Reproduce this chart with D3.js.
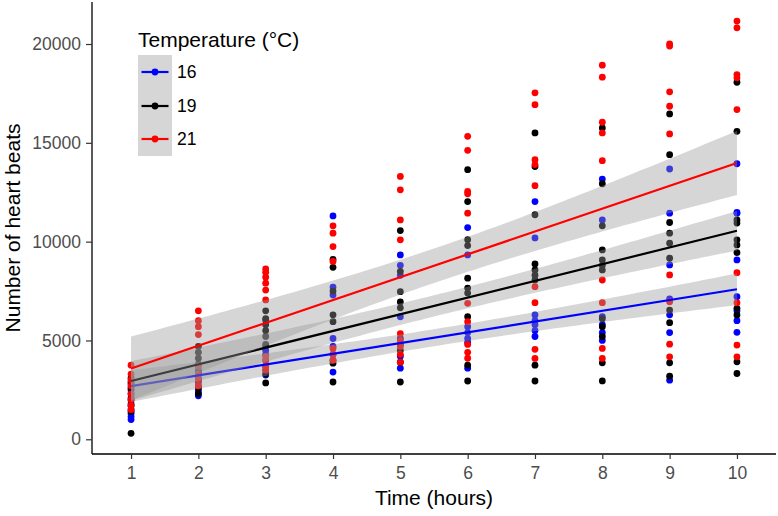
<!DOCTYPE html>
<html><head><meta charset="utf-8">
<script src="https://cdn.jsdelivr.net/npm/d3@7"></script>
<style>
html,body{margin:0;padding:0;background:#fff;}
svg{display:block;font-family:Arial,"Liberation Sans",sans-serif;}
</style></head>
<body>
<svg id="chart" width="778" height="516"></svg>
<script>
// ---- data ----
const hours = [1,2,3,4,5,6,7,8,9,10];
const temps = ["16","19","21"];
const colors = ["#0000FF","#000000","#FF0000"];
const xTicks = [1,2,3,4,5,6,7,8,9,10];
const yTicks = [0,5000,10000,15000,20000];

// heart beats per hour column, temperature 16
const beats16 = [
  [1000,1150,1300,1500,1800,2100,2500,2800],
  [2200,2350,2500,2700,2900,3100,3300,3500],
  [3250,3500,3700,4000,4300,4500,4700,6030],
  [3400,4000,4300,4700,5100,7300,7700,11300],
  [3600,4200,4800,5100,6200,8300,8800,9330],
  [3600,4900,5100,5400,5700,9330,10710],
  [5200,5500,5800,6000,6290,10190,12030],
  [5000,5400,5800,6200,11100,13165],
  [2990,5400,6300,7100,8820,11440,13675],
  [5410,6000,6500,7215,9075,11440,11475,13940]
];
// temperature 19
const beats19 = [
  [300,1400,1700,2000,2300,2600,2900,3100],
  [2300,2600,3000,3400,3800,4100,4400,4700],
  [2850,3300,4800,5200,5500,5800,6100,6500],
  [2900,3850,5950,6300,7500,8700,9100],
  [2900,3900,4500,6650,6950,7470,8500,10560],
  [2950,3750,6200,7400,7650,8150,9800,10100,12030,13640],
  [2950,3750,8060,8300,8570,8870,11360,13800,15500],
  [2955,3870,5200,5700,6100,8570,8800,9075,9580,10800,12930,15750],
  [3195,3870,5900,6540,9160,9920,10430,10970,14400,16460],
  [3330,3920,6290,6625,9445,9835,10090,10940,11100,15580,18065]
];
// temperature 21
const beats21 = [
  [1500,1700,2000,2300,2700,3000,3300,3750],
  [2700,3000,3300,3700,5300,5700,6000,6500],
  [3500,3700,4000,4200,7050,7550,7900,8200,8450,8620],
  [4000,4300,4600,9000,9750,10430,10800],
  [3900,4300,4700,5000,5350,10090,11100,12620,13300],
  [4100,4400,4800,5950,6880,11440,12420,12540,14620,15330],
  [4090,4550,6910,7720,12830,13900,14145,16930,17530],
  [4090,4600,6910,8060,14095,15500,16040,18320,18930],
  [4175,4815,6960,8315,15450,16850,17580,19900,20010],
  [4175,4765,6910,8430,16680,18290,18455,20820,21160]
];
// linear fits: value at hour 1 and hour 10, CI half-width at the ends
const fitAt1  = [2690, 2950, 3580];
const fitAt10 = [7590, 10550, 13980];
const ciHalfEnd = [800, 1000, 1620];

// ---- drawing ----
const svg = d3.select("#chart");
const x = d3.scaleLinear().domain([0.42,10.58]).range([92,776]);
const y = d3.scaleLinear().domain([-744,22125]).range([454,2]);

const series = [beats16, beats19, beats21];

// points
series.forEach((cols,gi)=>{
  const pts = [];
  cols.forEach((vals,ci)=>vals.forEach(v=>pts.push({h:hours[ci],v})));
  svg.append("g").selectAll("circle").data(pts).join("circle")
    .attr("cx",d=>x(d.h)).attr("cy",d=>y(d.v)).attr("r",3.4)
    .attr("fill",colors[gi]);
});

// smooth: ribbon + line per group
const xbar = d3.mean(hours);
const sxxn = d3.mean(hours, h=>(h-xbar)*(h-xbar));
const hs = d3.range(0,91).map(i=>1+i*0.1);
temps.forEach((t,gi)=>{
  const slope = (fitAt10[gi]-fitAt1[gi])/9;
  const fit = h => fitAt1[gi] + slope*(h-1);
  const endFactor = Math.sqrt(1 + (10-xbar)*(10-xbar)/sxxn);
  const hw = h => ciHalfEnd[gi]*Math.sqrt(1 + (h-xbar)*(h-xbar)/sxxn)/endFactor;
  const area = d3.area().x(h=>x(h)).y0(h=>y(fit(h)-hw(h))).y1(h=>y(fit(h)+hw(h)));
  svg.append("path").datum(hs).attr("d",area).attr("fill","#999999").attr("fill-opacity",0.4);
  const line = d3.line().x(h=>x(h)).y(h=>y(fit(h)));
  svg.append("path").datum([1,10]).attr("d",line).attr("fill","none")
    .attr("stroke",colors[gi]).attr("stroke-width",2.2);
});

// axes
const xAxis = svg.append("g").attr("transform","translate(0,454)")
  .call(d3.axisBottom(x).tickValues(xTicks).tickFormat(d3.format("d")).tickSize(5).tickSizeOuter(0).tickPadding(8));
const yAxis = svg.append("g").attr("transform","translate(92,0)")
  .call(d3.axisLeft(y).tickValues(yTicks).tickFormat(d=>String(d)).tickSize(6).tickSizeOuter(0).tickPadding(5));
[xAxis,yAxis].forEach(a=>{
  a.select(".domain").attr("stroke","#000").attr("stroke-width",1.3);
  a.selectAll(".tick line").attr("stroke","#333").attr("stroke-width",1.2);
  a.selectAll(".tick text").attr("fill","#4d4d4d").style("font-size","17.5px").style("font-family","Arial,'Liberation Sans',sans-serif");
});
// extend x-axis line to the left to meet y-axis
xAxis.select(".domain").attr("d","M92,0H776");
yAxis.select(".domain").attr("d","M0,454V2");

// axis titles
svg.append("text").attr("x",434).attr("y",505).attr("text-anchor","middle")
  .style("font-size","21px").attr("fill","#000").text("Time (hours)");
svg.append("text").attr("transform","translate(20,228) rotate(-90)").attr("text-anchor","middle")
  .style("font-size","21px").attr("fill","#000").text("Number of heart beats");

// legend
const lg = svg.append("g");
lg.append("text").attr("x",138).attr("y",47).style("font-size","21px").attr("fill","#000").text("Temperature (°C)");
const keyY = [72,106,139];
temps.forEach((t,i)=>{
  lg.append("rect").attr("x",138).attr("y",keyY[i]-17).attr("width",34).attr("height",i===2?34:34)
    .attr("fill","#D6D6D6");
});
temps.forEach((t,i)=>{
  lg.append("line").attr("x1",141.5).attr("x2",168.5).attr("y1",keyY[i]).attr("y2",keyY[i])
    .attr("stroke",colors[i]).attr("stroke-width",2.2);
  lg.append("circle").attr("cx",155).attr("cy",keyY[i]).attr("r",3.4).attr("fill",colors[i]);
  lg.append("text").attr("x",177).attr("y",keyY[i]).attr("dy","0.36em").style("font-size","17.5px")
    .attr("fill","#000").text(t);
});
</script>
</body></html>
